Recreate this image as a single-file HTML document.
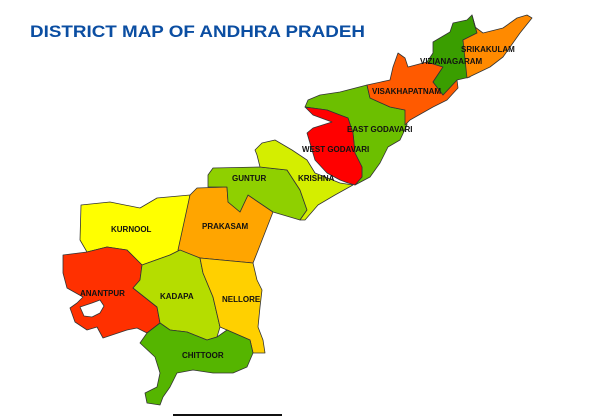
<!DOCTYPE html>
<html><head><meta charset="utf-8"><style>
html,body{margin:0;padding:0;background:#fff;width:594px;height:420px;overflow:hidden}
svg{display:block}
.d{stroke:#333;stroke-width:0.8;stroke-linejoin:round}
.l{font-family:"Liberation Sans",sans-serif;font-size:8px;font-weight:bold;fill:#111}
</style></head><body>
<svg width="594" height="420" viewBox="0 0 594 420">
<text x="30" y="37" font-family="Liberation Sans, sans-serif" font-weight="bold" font-size="17" fill="#0b4ea2" textLength="335" lengthAdjust="spacingAndGlyphs">DISTRICT MAP OF ANDHRA PRADEH</text>
<g>
<polygon class="d" fill="#ffff00" points="81,205 110,202 140,208 157,198 190,195 180,250 170,255 142,265 127,250 107,247 87,252 80,240"/>
<polygon class="d" fill="#ffa500" points="190,195 197,188 227,187 228,202 240,212 248,195 273,212 257,253 253,263 200,258 178,250"/>
<polygon class="d" fill="#8fd000" points="208,175 213,168 260,167 287,170 300,190 307,210 300,220 273,212 248,195 240,212 228,202 227,187 208,187"/>
<polygon class="d" fill="#d4ee00" points="255,150 262,143 275,140 292,150 307,160 315,173 340,183 353,185 335,195 318,205 305,220 300,220 307,210 300,190 287,170 260,167 257,155"/>
<polygon class="d" fill="#6cbf00" points="308,100 320,95 340,92 367,85 370,98 390,107 405,110 407,125 400,140 388,147 380,163 370,177 355,185 362,177 362,167 355,153 353,133 348,118 340,115 327,110 305,107"/>
<polygon class="d" fill="#ff0000" points="305,107 327,110 340,115 348,118 353,133 355,153 362,167 362,177 355,185 348,183 340,180 327,173 315,160 307,133 313,128 332,122 313,115"/>
<polygon class="d" fill="#ff5a00" points="367,85 390,80 393,67 398,53 405,58 408,67 427,62 443,67 433,82 443,95 457,80 458,88 447,100 433,107 410,120 405,125 405,110 390,107 370,98"/>
<polygon class="d" fill="#3a9e00" points="433,42 450,32 453,23 467,20 472,15 477,33 463,40 470,77 457,80 443,95 433,82 443,67 427,62 433,53"/>
<polygon class="d" fill="#ff8a00" points="472,15 475,27 483,33 503,28 517,18 527,15 532,18 520,33 503,57 490,67 467,78 463,40 477,33"/>
<polygon class="d" fill="#ff3000" points="63,255 87,252 107,247 127,250 142,265 140,280 133,288 157,307 160,323 147,333 137,328 127,330 103,338 97,327 87,330 75,322 70,308 77,303 83,297 67,288 63,273"/>
<polygon class="d" fill="#fff" points="80,307 92,303 100,300 104,306 100,313 92,317 84,316"/>
<polygon class="d" fill="#b5dd00" points="142,265 170,255 180,250 200,258 203,273 213,297 220,327 217,337 207,340 187,332 170,330 160,323 157,307 133,288 140,280"/>
<polygon class="d" fill="#ffd000" points="200,258 253,263 257,280 262,290 260,307 258,327 263,340 265,353 253,353 250,340 227,330 220,327 213,297 203,273"/>
<polygon class="d" fill="#55b500" points="160,323 170,330 187,332 207,340 217,337 227,330 250,340 253,353 247,367 233,373 213,373 193,370 177,373 170,387 163,397 160,405 147,403 145,393 157,387 160,373 155,357 140,343 147,333"/>
</g>
<g>
<text class="l" x="461" y="52">SRIKAKULAM</text>
<text class="l" x="420" y="64">VIZIANAGARAM</text>
<text class="l" x="372" y="94">VISAKHAPATNAM</text>
<text class="l" x="347" y="132">EAST GODAVARI</text>
<text class="l" x="302" y="152">WEST GODAVARI</text>
<text class="l" x="298" y="181">KRISHNA</text>
<text class="l" x="232" y="181">GUNTUR</text>
<text class="l" x="111" y="232">KURNOOL</text>
<text class="l" x="202" y="229">PRAKASAM</text>
<text class="l" x="80" y="296">ANANTPUR</text>
<text class="l" x="160" y="299">KADAPA</text>
<text class="l" x="222" y="302">NELLORE</text>
<text class="l" x="182" y="358">CHITTOOR</text>
</g>
<line x1="173" y1="415" x2="282" y2="415" stroke="#111" stroke-width="2"/>
</svg>
</body></html>
